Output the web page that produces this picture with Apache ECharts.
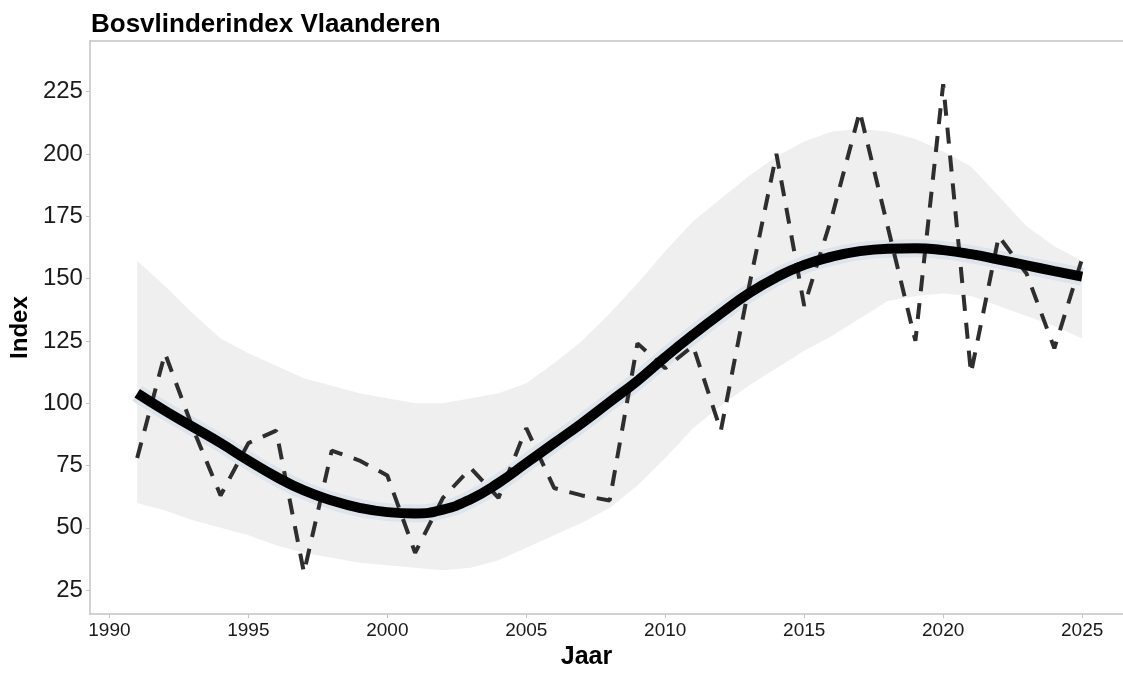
<!DOCTYPE html>
<html>
<head>
<meta charset="utf-8">
<title>Bosvlinderindex Vlaanderen</title>
<script src="https://cdn.jsdelivr.net/npm/echarts@6/dist/echarts.min.js"></script>
<style>
	html, body { margin: 0; padding: 0; background: #fff; }
	#main { width: 1123px; height: 675px; }
</style>
</head>
<body>
<div id="main"></div>
<script>
var years = [1991, 1992, 1993, 1994, 1995, 1996, 1997, 1998, 1999, 2000,
	2001, 2002, 2003, 2004, 2005, 2006, 2007, 2008, 2009, 2010,
	2011, 2012, 2013, 2014, 2015, 2016, 2017, 2018, 2019, 2020,
	2021, 2022, 2023, 2024, 2025];
// jaarlijkse index (stippellijn)
var index = [78, 120, 90, 63, 84, 89, 32, 81, 77, 71,
	40, 62, 74, 62, 90, 66, 63, 61, 124, 114,
	123, 89, 146, 200, 139, 175, 217, 171, 125, 228,
	112, 167, 152, 122, 158];
// trendlijn
var trend = [104, 97, 90.5, 84, 77, 70.5, 65, 61, 58, 56.3,
	55.8, 57.3, 61.5, 68, 76, 84, 92, 100.5, 109, 118.5,
	127.5, 136, 144, 150.5, 155.5, 158.8, 161, 162, 162.2, 161.4,
	159.8, 157.6, 155.3, 153, 150.8];
// betrouwbaarheidsband
var upper = [157, 147, 136, 126, 120, 115, 110, 107, 104, 102,
	100, 100, 102, 104, 108, 116, 125, 136, 148, 161,
	173, 182, 191, 199, 205, 209, 210, 209, 206, 201,
	195, 183, 171, 163, 157];
var lower = [60, 57, 53, 50, 47, 43, 40, 38, 36, 35,
	34, 33, 34, 37, 42, 47, 52, 58, 67, 78,
	90, 99, 107, 114, 121, 127, 134, 141, 143, 144,
	143, 139, 135, 131, 126];
var xTicks = [1990, 1995, 2000, 2005, 2010, 2015, 2020, 2025];
var yTicks = [25, 50, 75, 100, 125, 150, 175, 200, 225];

function pairs(arr) {
	return years.map(function(y, i) {
		return [y, arr[i]];
	});
}

var myChart = echarts.init(document.getElementById('main'));

var axisGray = '#c4c4c4';
var font = 'Liberation Sans, Arial, sans-serif';

var option = {
	backgroundColor: '#ffffff',
	animation: false,
	title: {
		text: 'Bosvlinderindex Vlaanderen',
		left: 86,
		top: 7,
		textStyle: {
			fontFamily: font,
			fontSize: 26,
			fontWeight: 'bold',
			color: '#000'
		}
	},
	grid: {
		left: 88,
		right: 0,
		top: 41,
		bottom: 57
	},
	xAxis: [{
		type: 'value',
		min: 1989.3,
		max: 2026.47,
		name: 'Jaar',
		nameLocation: 'middle',
		nameGap: 28,
		nameTextStyle: {
			fontFamily: font,
			fontSize: 25,
			fontWeight: 'bold',
			color: '#000',
			padding: [0, 40, 0, 0]
		},
		splitLine: { show: false },
		axisLine: { lineStyle: { color: axisGray, width: 1.5 } },
		axisTick: {
			customValues: xTicks,
			length: 4,
			lineStyle: { color: axisGray }
		},
		axisLabel: {
			customValues: xTicks,
			margin: 7,
			fontFamily: font,
			fontSize: 19,
			color: '#1a1a1a',
			formatter: function(v) {
				return String(v);
			}
		}
	}, {
		type: 'value',
		position: 'top',
		min: 1989.3,
		max: 2026.47,
		splitLine: { show: false },
		axisLine: { lineStyle: { color: axisGray, width: 1.5 } },
		axisTick: { show: false },
		axisLabel: { show: false }
	}],
	yAxis: {
		type: 'value',
		min: 15.4,
		max: 245.3,
		name: 'Index',
		nameLocation: 'middle',
		nameGap: 52,
		nameTextStyle: {
			fontFamily: font,
			fontSize: 24,
			fontWeight: 'bold',
			color: '#000'
		},
		splitLine: { show: false },
		axisLine: { show: true, lineStyle: { color: axisGray, width: 1.5 } },
		axisTick: {
			show: true,
			customValues: yTicks,
			length: 4,
			lineStyle: { color: axisGray }
		},
		axisLabel: {
			customValues: yTicks,
			margin: 7,
			fontFamily: font,
			fontSize: 24,
			color: '#1a1a1a'
		}
	},
	series: [{
		name: 'band',
		type: 'custom',
		data: pairs(upper),
		silent: true,
		renderItem: function(params, api) {
			if (params.dataIndex !== 0) {
				return;
			}
			var pts = [];
			for (var i = 0; i < years.length; i++) {
				pts.push(api.coord([years[i], upper[i]]));
			}
			for (var j = years.length - 1; j >= 0; j--) {
				pts.push(api.coord([years[j], lower[j]]));
			}
			return {
				type: 'polygon',
				shape: { points: pts },
				style: { fill: '#efefef' }
			};
		}
	}, {
		name: 'trend-se',
		type: 'line',
		data: pairs(trend),
		smooth: true,
		symbol: 'none',
		lineStyle: { color: '#dde4eb', width: 18, cap: 'butt' },
		silent: true
	}, {
		name: 'index',
		type: 'line',
		data: pairs(index),
		symbol: 'none',
		lineStyle: {
			color: '#2e2e2e',
			width: 4,
			type: [16, 12],
			cap: 'butt'
		}
	}, {
		name: 'trend',
		type: 'line',
		data: pairs(trend),
		smooth: true,
		symbol: 'none',
		lineStyle: { color: '#000', width: 10, cap: 'butt' }
	}]
};

myChart.setOption(option);
</script>
</body>
</html>
